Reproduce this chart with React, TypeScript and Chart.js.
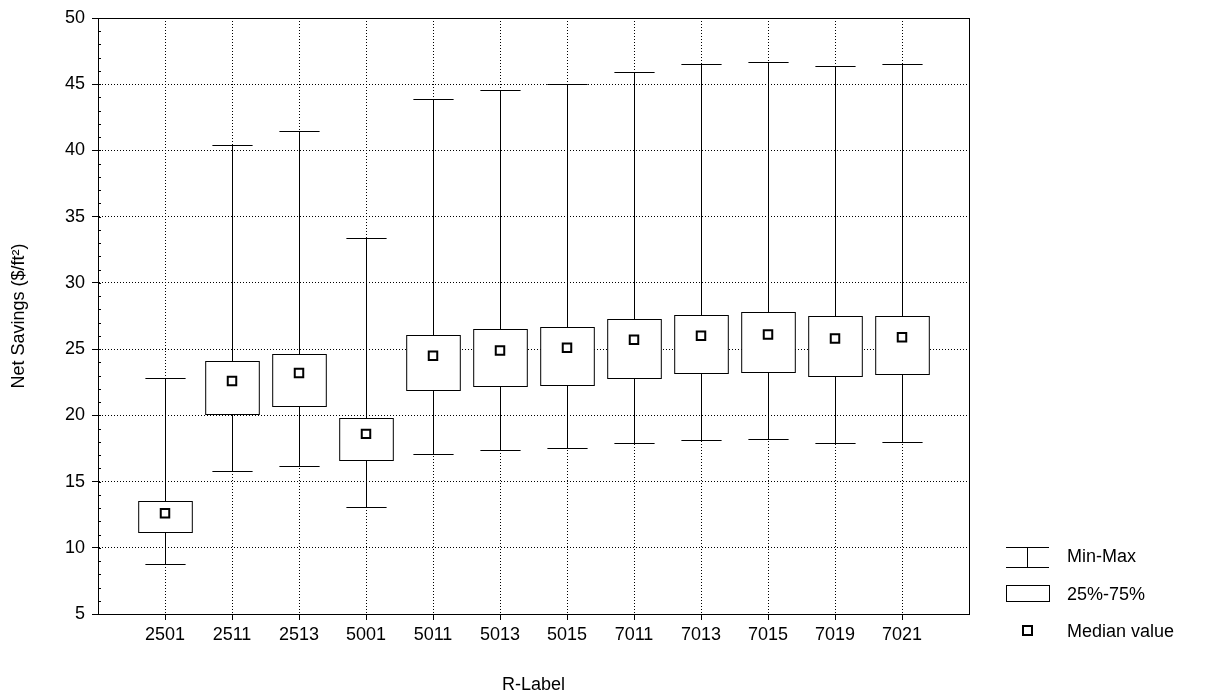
import React, { useEffect, useRef } from "react";
import { Chart, registerables } from "chart.js";

Chart.register(...registerables);

const labels = ["2501", "2511", "2513", "5001", "5011", "5013", "5015", "7011", "7013", "7015", "7019", "7021"];
const minVals = [8.8, 15.8, 16.2, 13.1, 17.1, 17.4, 17.5, 17.9, 18.1, 18.2, 17.9, 18.0];
const q1Vals = [11.2, 20.1, 20.7, 16.6, 21.9, 22.2, 22.3, 22.8, 23.2, 23.3, 23.0, 23.1];
const medianVals = [12.6, 22.6, 23.2, 18.6, 24.5, 24.9, 25.1, 25.7, 26.0, 26.1, 25.8, 25.9];
const q3Vals = [13.5, 24.1, 24.6, 19.8, 26.1, 26.5, 26.7, 27.3, 27.6, 27.8, 27.5, 27.5];
const maxVals = [22.8, 40.4, 41.5, 33.4, 43.9, 44.6, 45.0, 45.9, 46.5, 46.7, 46.4, 46.5];

const FONT = "'Liberation Sans', Arial, sans-serif";

const boxPlugin = {
  id: "boxes",
  beforeDatasetsDraw(chart: any) {
    const { ctx, scales, chartArea } = chart;
    const x = scales.x;
    const y = scales.y;
    ctx.save();
    // minor ticks on left axis
    ctx.strokeStyle = "#000";
    ctx.lineWidth = 1;
    for (let v = 5; v <= 50; v++) {
      const py = Math.round(y.getPixelForValue(v)) + 0.5;
      ctx.beginPath();
      ctx.moveTo(chartArea.left, py);
      ctx.lineTo(chartArea.left + 3, py);
      ctx.stroke();
    }
    labels.forEach((_, i) => {
      const cx = Math.round(x.getPixelForValue(i + 1)) + 0.5;
      const half = x.getPixelForValue(1.4) - x.getPixelForValue(1);
      const cap = x.getPixelForValue(1.3) - x.getPixelForValue(1);
      const pMin = Math.round(y.getPixelForValue(minVals[i])) + 0.5;
      const pMax = Math.round(y.getPixelForValue(maxVals[i])) + 0.5;
      const pQ1 = Math.round(y.getPixelForValue(q1Vals[i])) + 0.5;
      const pQ3 = Math.round(y.getPixelForValue(q3Vals[i])) + 0.5;
      ctx.strokeStyle = "#000";
      ctx.lineWidth = 1;
      ctx.beginPath();
      ctx.moveTo(cx, pMin);
      ctx.lineTo(cx, pMax);
      ctx.moveTo(cx - cap, pMin);
      ctx.lineTo(cx + cap, pMin);
      ctx.moveTo(cx - cap, pMax);
      ctx.lineTo(cx + cap, pMax);
      ctx.stroke();
      ctx.fillStyle = "#fff";
      ctx.fillRect(cx - half, pQ3, half * 2, pQ1 - pQ3);
      ctx.strokeRect(cx - half, pQ3, half * 2, pQ1 - pQ3);
    });
    ctx.restore();
  },
  afterDraw(chart: any) {
    const { ctx, chartArea } = chart;
    ctx.save();
    ctx.strokeStyle = "#000";
    ctx.lineWidth = 1;
    ctx.strokeRect(chartArea.left + 0.5, chartArea.top + 0.5, chartArea.right - chartArea.left, chartArea.bottom - chartArea.top);
    // legend
    ctx.font = `18px ${FONT}`;
    ctx.fillStyle = "#000";
    ctx.textBaseline = "middle";
    ctx.beginPath();
    ctx.moveTo(1006, 547.5); ctx.lineTo(1049, 547.5);
    ctx.moveTo(1006, 567.5); ctx.lineTo(1049, 567.5);
    ctx.moveTo(1027.5, 547.5); ctx.lineTo(1027.5, 567.5);
    ctx.stroke();
    ctx.fillText("Min-Max", 1067, 557);
    ctx.strokeRect(1006.5, 585.5, 43, 16);
    ctx.fillText("25%-75%", 1067, 595);
    ctx.lineWidth = 2;
    ctx.strokeRect(1023, 626, 9, 9);
    ctx.fillText("Median value", 1067, 632);
    ctx.restore();
  },
};

const App = () => {
  const canvasRef = useRef<HTMLCanvasElement>(null);
  const chartRef = useRef<Chart | null>(null);

  useEffect(() => {
    if (!canvasRef.current) return;
    if (chartRef.current) chartRef.current.destroy();
    chartRef.current = new Chart(canvasRef.current, {
      type: "scatter",
      data: {
        datasets: [
          {
            label: "Median value",
            data: medianVals.map((v, i) => ({ x: i + 1, y: v })),
            pointStyle: "rect",
            pointRadius: 6,
            borderWidth: 2,
            borderColor: "#000",
            backgroundColor: "#fff",
          },
        ],
      },
      options: {
        animation: false,
        responsive: false,
        layout: { padding: { top: 18, right: 260, left: 4, bottom: 0 } },
        plugins: { legend: { display: false }, tooltip: { enabled: false } },
        scales: {
          x: {
            type: "linear",
            min: 0,
            max: 13,
            afterFit: (s: any) => { s.height = 86; },
            afterBuildTicks: (s: any) => {
              s.ticks = labels.map((_, i) => ({ value: i + 1 }));
            },
            ticks: {
              callback: (v: any) => labels[Number(v) - 1] ?? "",
              color: "#000",
              font: { family: FONT, size: 18 },
              padding: 4,
              maxRotation: 0,
            },
            grid: { color: "#000", borderDash: [1, 2], tickLength: 6, tickBorderDash: [], tickColor: "#000" } as any,
            border: { color: "#000", dash: [1, 2] } as any,
            title: { display: true, text: "R-Label", color: "#000", font: { family: FONT, size: 18 }, padding: { top: 14 } },
          },
          y: {
            min: 5,
            max: 50,
            afterFit: (s: any) => { s.width = 94; },
            ticks: { stepSize: 5, color: "#000", font: { family: FONT, size: 18 }, padding: 7 },
            grid: { color: "#000", tickLength: 6, tickColor: "#000", tickBorderDash: [] } as any,
            border: { color: "#000", dash: [1, 2] } as any,
            title: { display: true, text: "Net Savings ($/ft²)", color: "#000", font: { family: FONT, size: 18 }, padding: { bottom: 4 } },
          },
        },
      },
      plugins: [boxPlugin],
    });
    return () => {
      if (chartRef.current) chartRef.current.destroy();
    };
  }, []);

  return (
    <div style={{ position: "fixed", left: 0, top: 0, width: 1229, height: 700, background: "#fff" }}>
      <canvas ref={canvasRef} width={1229} height={700} />
    </div>
  );
};

export default App;
